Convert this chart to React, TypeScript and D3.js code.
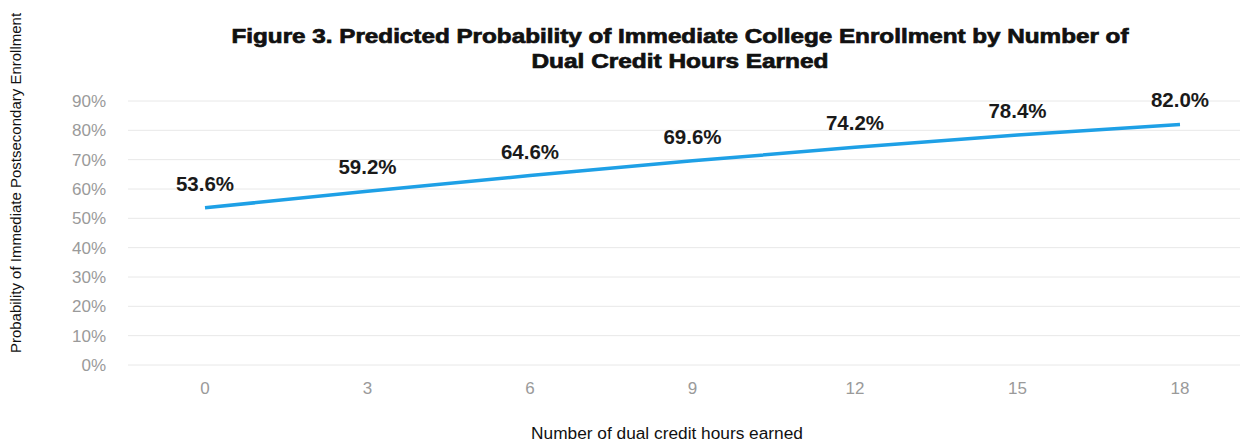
import React from "react";
import * as d3 from "d3";

const hours = ["0", "3", "6", "9", "12", "15", "18"];
const probability = [53.6, 59.2, 64.6, 69.6, 74.2, 78.4, 82.0];
const yTicks = [0, 10, 20, 30, 40, 50, 60, 70, 80, 90];
const titleLines = [
  "Figure 3. Predicted Probability of Immediate College Enrollment by Number of",
  "Dual Credit Hours Earned",
];
const titleWidths = [897, 297];

export default function App() {
  const W = 1251;
  const H = 443;
  const x = d3.scalePoint<string>().domain(hours).range([205, 1180]);
  const y = d3.scaleLinear().domain([0, 90]).range([365, 101]);
  const line = d3
    .line<number>()
    .x((_, i) => x(hours[i]) as number)
    .y((d) => y(d));
  return (
    <svg
      width={W}
      height={H}
      style={{ position: "absolute", left: 0, top: 0, background: "#fff" }}
      fontFamily="Liberation Sans, Arial, sans-serif"
    >
      {titleLines.map((t, i) => (
        <text
          key={i}
          x={680}
          y={43 + i * 25}
          textAnchor="middle"
          fontSize={20}
          fontWeight="bold"
          fill="#111"
          stroke="#111"
          strokeWidth={0.7}
          textLength={titleWidths[i]}
          lengthAdjust="spacingAndGlyphs"
        >
          {t}
        </text>
      ))}
      {yTicks.map((t) => (
        <g key={t}>
          <line x1={128} x2={1240} y1={y(t)} y2={y(t)} stroke="#e8e8e8" strokeWidth={1} />
          <text x={106} y={y(t) + 6} textAnchor="end" fontSize={17} fill="#9a9a9a">
            {t}%
          </text>
        </g>
      ))}
      {hours.map((h) => (
        <text key={h} x={x(h)} y={394} textAnchor="middle" fontSize={17} fill="#9a9a9a">
          {h}
        </text>
      ))}
      <path d={line(probability) || ""} fill="none" stroke="#1ea0e6" strokeWidth={3.5} />
      {probability.map((v, i) => (
        <text
          key={i}
          x={x(hours[i]) as number}
          y={y(v) - 17}
          textAnchor="middle"
          fontSize={20.5}
          fontWeight="bold"
          fill="#1a1a1a"
        >
          {v.toFixed(1)}%
        </text>
      ))}
      <text
        transform={`translate(21,183) rotate(-90)`}
        textAnchor="middle"
        fontSize={15}
        fill="#111"
        fontFamily="Liberation Sans Narrow, Arial Narrow, sans-serif"
      >
        Probability of Immediate Postsecondary Enrollment
      </text>
      <text
        x={667}
        y={439}
        textAnchor="middle"
        fontSize={17.3}
        fill="#111"
        fontFamily="Liberation Sans Narrow, Arial Narrow, sans-serif"
      >
        Number of dual credit hours earned
      </text>
    </svg>
  );
}
